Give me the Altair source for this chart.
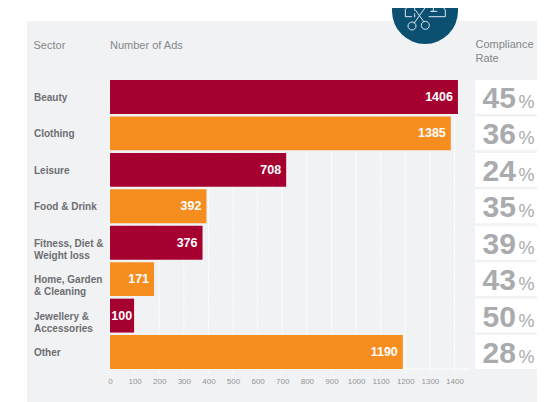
import altair as alt
import pandas as pd
import math

sectors = ["Beauty", "Clothing", "Leisure", "Food & Drink", "Fitness, Diet &\nWeight loss",
           "Home, Garden\n& Cleaning", "Jewellery &\nAccessories", "Other"]
printed_ads = [1406, 1385, 708, 392, 376, 171, 100, 1190]
# Bar lengths as drawn, read against the axis (they differ slightly from the printed labels)
bar_lengths = [1414, 1385, 716, 392, 376, 179, 98, 1190]
compliance = [45, 36, 24, 35, 39, 43, 50, 28]
tick_values = list(range(0, 1500, 100))
groups = ["a", "b", "a", "b", "a", "b", "a", "b"]

CRIMSON = "#a60031"
ORANGE = "#f68d1f"
PANEL = "#f1f2f4"
TEAL = "#0b4f71"
GREY_H = "#85878a"
GREY_L = "#6d6e71"
GREY_N = "#a9abae"
FONT = "Liberation Sans"

df = pd.DataFrame({"sector": sectors, "printed": printed_ads, "bar": bar_lengths,
                   "rate": compliance, "group": groups})
df["pct"] = "%"
ticks = pd.DataFrame({"t": tick_values})
one = alt.Data(values=[{"k": 0}])

xs = alt.Scale(domain=[0, 1400], range=[102, 446.5])
ys = alt.Scale(domain=sectors, range=[72, 361], paddingInner=0.07, paddingOuter=0)
x_axis = alt.Axis(
    values=tick_values, orient="bottom", offset=-21, domain=False, ticks=False, grid=False, zindex=1,
    title=None, labelFont=FONT, labelFontSize=8, labelColor="#939598", labelPadding=0,
    labelBaseline="middle", labelOverlap=False, labelFlush=False, format="d")
X = alt.X("bar:Q", scale=xs, axis=x_axis)
Y = alt.Y("sector:N", scale=ys, sort=None, axis=None)


def px(zx, zy):
    u = (zx / 3 - 153) / 33
    v = (zy / 3 - 11) / 33
    return f"{u:.3f} {v:.3f}"


def poly(points):
    return "M" + " L".join(px(*p) for p in points)


def ring(cx, cy, r, n=16):
    return poly([(cx + r * math.cos(2 * math.pi * i / n), cy + r * math.sin(2 * math.pi * i / n))
                 for i in range(n + 1)])


icon = " ".join([
    poly([(400, 0), (412, 15), (400, 28), (400, 50), (420, 50)]),
    poly([(520, 0), (508, 15), (520, 30), (520, 50), (470, 50)]),
    poly([(428, 22), (428, 32)]), poly([(428, 40), (428, 52)]), poly([(428, 4), (428, 14)]),
    poly([(465, 15), (426, 70)]),
    poly([(430, 30), (456, 66)]),
    ring(420, 78, 12), ring(460, 76, 12),
    poly([(496, 8), (486, 6), (484, 18), (484, 34), (476, 34), (496, 34)]),
    poly([(476, 21), (492, 21)]),
])

panel = alt.Chart(one).mark_rect(color=PANEL).encode(
    x=alt.value(19), x2=alt.value(529), y=alt.value(13), y2=alt.value(394))
cells = alt.Chart(df).mark_rect(color="white").encode(y=Y, x=alt.value(467), x2=alt.value(529))
grid = alt.Chart(ticks).mark_rule(color="white", strokeWidth=1, strokeDash=[2, 1]).encode(
    x=alt.X("t:Q", scale=xs, axis=x_axis), y=alt.value(72), y2=alt.value(365))
base = alt.Chart(one).mark_rule(color="white", strokeWidth=1).encode(
    x=alt.value(102), x2=alt.value(462), y=alt.value(361))
bars = alt.Chart(df).mark_bar().encode(
    x=X, y=Y,
    color=alt.Color("group:N", scale=alt.Scale(domain=["a", "b"], range=[CRIMSON, ORANGE]), legend=None))
vals = alt.Chart(df).transform_filter("datum.printed > 100").mark_text(
    align="right", baseline="middle", dx=-5, font=FONT, fontSize=12.5,
    fontWeight="bold", color="white").encode(x=X, y=Y, text="printed:Q")
val_small = alt.Chart(df).transform_filter("datum.printed <= 100").mark_text(
    align="right", baseline="middle", dx=-2, font=FONT, fontSize=12.5,
    fontWeight="bold", color="white").encode(x=X, y=Y, text="printed:Q")
labels = alt.Chart(df).mark_text(align="left", baseline="middle", lineBreak="\n", lineHeight=12, dy=1, font=FONT,
                                 fontSize=10, fontWeight="bold", color=GREY_L).encode(
    x=alt.value(26), y=Y, text="sector:N")
nums = alt.Chart(df).mark_text(align="left", baseline="middle", dy=2, font=FONT, fontSize=30,
                               fontWeight="bold", color=GREY_N).encode(
    x=alt.value(474.5), y=Y, text="rate:Q")
pct = alt.Chart(df).mark_text(align="left", baseline="middle", dy=6, font=FONT, fontSize=18,
                              color=GREY_N).encode(
    x=alt.value(510.5), y=Y, text="pct:N")


def head(txt, x, y):
    return alt.Chart(alt.Data(values=[{"s": txt}])).mark_text(
        align="left", baseline="middle", font=FONT, fontSize=11, color=GREY_H).encode(
        x=alt.value(x), y=alt.value(y), text="s:N")


badge = alt.Chart(one).mark_point(shape="circle", filled=True, color=TEAL, opacity=1, size=4356).encode(
    x=alt.value(417), y=alt.value(3))
glyph = alt.Chart(one).mark_point(shape=icon, filled=False, color="#dbe7ee", opacity=1, size=4356,
                                  strokeWidth=1).encode(x=alt.value(417), y=alt.value(3))

chart = alt.layer(
    panel, cells, grid, base, bars, vals, val_small, labels, nums, pct,
    head("Sector", 25.5, 38), head("Number of Ads", 102, 38),
    head("Compliance", 467.5, 37), head("Rate", 467.5, 51),
    badge, glyph,
).properties(width=529, height=394, padding=0,
             autosize=alt.AutoSizeParams(type="none")
).configure_view(stroke=None, fill=None)

chart.save("out.html", embed_options={"renderer": "svg", "actions": False})
